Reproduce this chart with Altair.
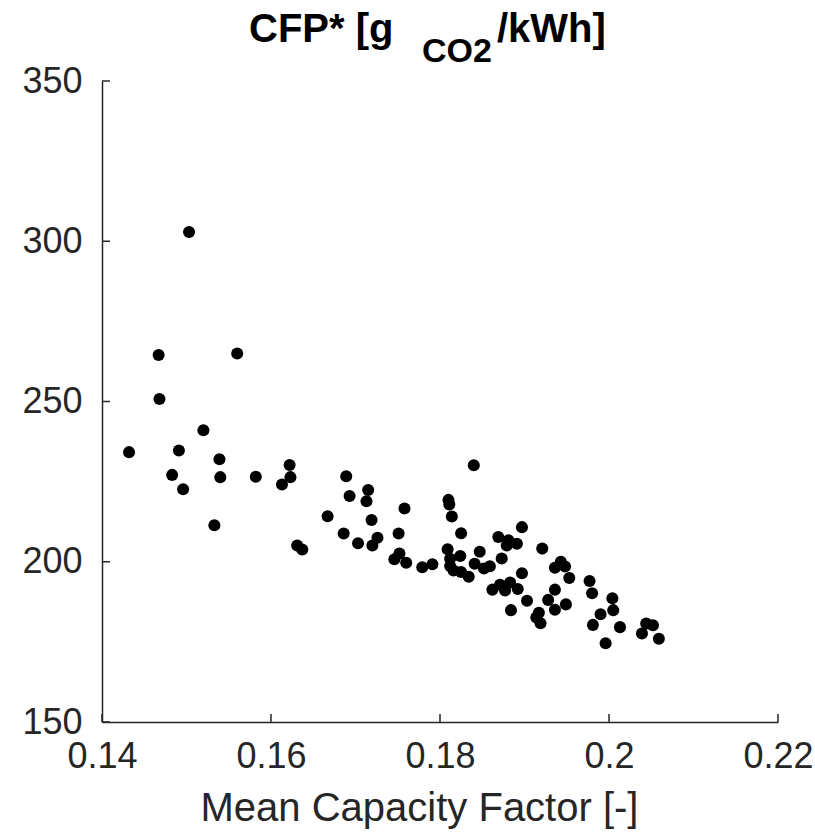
import altair as alt
import pandas as pd

# Mean capacity factor [-]
cap_factor = [0.1432, 0.1467, 0.1468, 0.1503, 0.1483, 0.1491, 0.1496, 0.1520, 0.1533, 0.1539,
              0.1540, 0.1560, 0.1582, 0.1613, 0.1623, 0.1622, 0.1631, 0.1637, 0.1667, 0.1686,
              0.1689, 0.1693, 0.1703, 0.1713, 0.1715, 0.1719, 0.1720, 0.1726, 0.1746, 0.1751,
              0.1752, 0.1758, 0.1760, 0.1779, 0.1791, 0.1809, 0.1810, 0.1811, 0.1812, 0.1812,
              0.1814, 0.1816, 0.1824, 0.1825, 0.1825, 0.1834, 0.1840, 0.1841, 0.1847, 0.1852,
              0.1859, 0.1862, 0.1869, 0.1871, 0.1873, 0.1877, 0.1879, 0.1881, 0.1883, 0.1884,
              0.1891, 0.1892, 0.1897, 0.1897, 0.1903, 0.1914, 0.1917, 0.1919, 0.1921, 0.1928,
              0.1936, 0.1936, 0.1936, 0.1943, 0.1948, 0.1949, 0.1953, 0.1977, 0.1980, 0.1981,
              0.1990, 0.1996, 0.2004, 0.2005, 0.2013, 0.2039, 0.2044, 0.2052, 0.2059]

# CFP* [g CO2 / kWh]
cfp = [234.2, 264.5, 250.8, 302.9, 227.1, 234.7, 222.6, 241.0, 211.4, 232.0,
       226.4, 265.0, 226.5, 224.1, 226.4, 230.2, 205.1, 203.8, 214.2, 208.8,
       226.7, 220.5, 205.8, 218.9, 222.4, 213.0, 205.1, 207.5, 200.8, 208.8,
       202.6, 216.6, 199.7, 198.3, 199.2, 203.9, 219.3, 217.9, 200.9, 198.7,
       214.1, 197.3, 201.8, 208.9, 196.8, 195.3, 230.1, 199.4, 203.1, 197.9,
       198.6, 191.3, 207.7, 192.8, 201.0, 191.0, 205.1, 206.7, 193.5, 184.9,
       205.6, 191.5, 210.8, 196.4, 187.8, 182.6, 184.1, 180.8, 204.1, 188.1,
       198.1, 191.3, 185.0, 200.0, 198.5, 186.7, 194.9, 194.0, 190.2, 180.3,
       183.6, 174.6, 188.6, 184.9, 179.6, 177.6, 180.7, 180.2, 176.0]

x_ticks = [0.14, 0.16, 0.18, 0.20, 0.22]
y_ticks = [150, 200, 250, 300, 350]

title_main = "CFP* [g"
title_sub = "CO2"
title_tail = "/kWh]"
x_title = "Mean Capacity Factor [-]"

W, H = 676, 641
FONT = "Liberation Sans"
AX = "#262626"

xscale = alt.Scale(domain=[0.14, 0.22], nice=False, zero=False)
yscale = alt.Scale(domain=[150, 350], nice=False, zero=False)

label_expr = "datum.value == 0.2 ? '0.2' : format(datum.value, '.2f')"

xaxis = alt.Axis(values=x_ticks, labelExpr=label_expr, title=x_title,
                 grid=False, ticks=False, domainColor=AX, domainWidth=1.5,
                 labelFont=FONT, labelColor=AX, labelFontSize=36, labelPadding=17,
                 labelFlush=False, labelOverlap=False, labelBound=False,
                 titleFontSize=40, titleFontWeight="normal", titleFont=FONT,
                 titleColor=AX, titleX=317, titleY=98, titleBaseline="alphabetic",
                 titleAlign="center", titleAnchor="start")
yaxis = alt.Axis(values=y_ticks, title="", grid=False, ticks=False,
                 domainColor=AX, domainWidth=1.5, labelFont=FONT, labelColor=AX,
                 labelFlush=False, labelOverlap=False, labelBound=False,
                 labelFontSize=36, labelPadding=20)

df = pd.DataFrame({"cf": cap_factor, "cfp": cfp})

points = alt.Chart(df).mark_circle(size=145, color="black", opacity=1).encode(
    x=alt.X("cf:Q", scale=xscale, axis=xaxis),
    y=alt.Y("cfp:Q", scale=yscale, axis=yaxis),
)

xt = alt.Chart(pd.DataFrame({"v": x_ticks})).mark_rule(color=AX, strokeWidth=1.5).encode(
    x=alt.X("v:Q", scale=xscale, axis=xaxis), y=alt.value(H), y2=alt.value(H - 8))
yt = alt.Chart(pd.DataFrame({"v": y_ticks})).mark_rule(color=AX, strokeWidth=1.5).encode(
    y=alt.Y("v:Q", scale=yscale, axis=yaxis), x=alt.value(0), x2=alt.value(8))

t1 = alt.Chart(pd.DataFrame({"t": [title_main]})).mark_text(
    font=FONT, fontSize=40, fontWeight="bold", align="left", baseline="alphabetic", color="black"
).encode(x=alt.value(147), y=alt.value(-39.5), text="t:N")
t2 = alt.Chart(pd.DataFrame({"t": [title_sub]})).mark_text(
    font=FONT, fontSize=34, fontWeight="bold", align="left", baseline="alphabetic", color="black"
).encode(x=alt.value(320), y=alt.value(-19.5), text="t:N")
t3 = alt.Chart(pd.DataFrame({"t": [title_tail]})).mark_text(
    font=FONT, fontSize=40, fontWeight="bold", align="left", baseline="alphabetic", color="black"
).encode(x=alt.value(395), y=alt.value(-39.5), text="t:N")

chart = alt.layer(points, xt, yt, t1, t2, t3).properties(
    width=W, height=H,
    background="white",
    autosize=alt.AutoSizeParams(type="none"),
    padding={"left": 102, "top": 81, "right": 37, "bottom": 110},
).configure_view(stroke=None).configure_axis(
    grid=False, ticks=False,
)

chart.save("out.html", embed_options={"renderer": "svg", "actions": False})
